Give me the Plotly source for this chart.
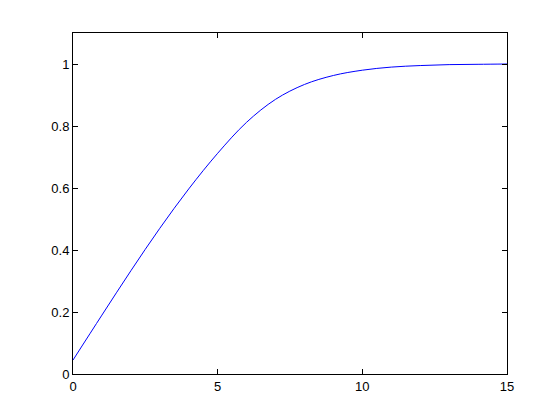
import plotly.graph_objects as go

# values
x_vals = [0, 1, 2, 3, 4, 5, 6, 7, 8, 9, 10, 11, 12, 13, 14, 15]
y_vals = [0.045, 0.190, 0.333, 0.470, 0.597, 0.712, 0.812, 0.886,
          0.934, 0.963, 0.980, 0.990, 0.995, 0.998, 0.999, 1.000]

x_ticks = [0, 5, 10, 15]
y_ticks = [0, 0.2, 0.4, 0.6, 0.8, 1]
y_tick_text = ['0', '0.2', '0.4', '0.6', '0.8', '1']

fig = go.Figure()
fig.add_trace(go.Scatter(x=x_vals, y=y_vals, mode='lines',
                         line=dict(color='rgb(0,0,255)', width=1, shape='spline'),
                         showlegend=False))

axis_style = dict(showgrid=False, zeroline=False, showline=True,
                  linecolor='black', linewidth=1, mirror='ticks',
                  ticks='inside', ticklen=5, tickcolor='black',
                  tickfont=dict(family='Liberation Sans, Arial', size=13, color='black'))

fig.update_xaxes(range=[0, 15], tickvals=x_ticks, **axis_style)
fig.update_yaxes(range=[0, 1.1], tickvals=y_ticks, ticktext=y_tick_text, **axis_style)

# page body adds 8px, so figure is 552x412 placed at (8,8)
fig.update_layout(width=552, height=412,
                  margin=dict(l=65, r=53, t=25, b=46),
                  paper_bgcolor='white', plot_bgcolor='white')

fig.write_html("out.html")
